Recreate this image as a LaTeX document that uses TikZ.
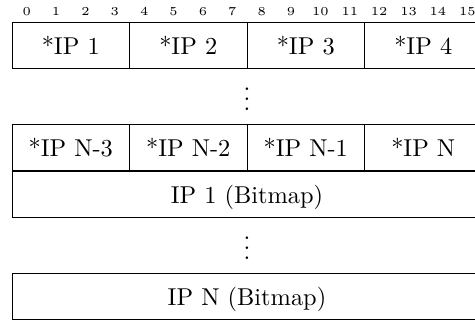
\documentclass[tikz,border=0pt]{standalone}
\begin{document}
\begin{tikzpicture}[x=0.41pt,y=-0.41pt,
  field/.style={draw, line width=0.4pt, inner sep=0pt, outer sep=0pt,
    minimum width=48.175pt, minimum height=18.86pt,
    text height=7.5pt, text depth=0pt, font=\normalsize},
  widefield/.style={field, minimum width=192.7pt},
  bitno/.style={font=\tiny, anchor=base, inner sep=0pt},
  gap/.style={anchor=base, inner sep=0pt, font=\normalsize}]
\useasboundingbox (0,0) rectangle (475,320);
\clip (0,0) rectangle (475,320);

% bit numbers above the word
\foreach \i in {0,...,15}
  \node[bitno] (b\i) at ({12+29.375*(\i+0.5)},15.5) {\i};

% first word of addresses
\node[field] (f1) at (70.75,45)  {*IP 1};
\node[field] (f2) at (188.25,45) {*IP 2};
\node[field] (f3) at (305.75,45) {*IP 3};
\node[field] (f4) at (423.25,45) {*IP 4};

\node[gap] (d1) at (247,110) {$\vdots$};

% last word of addresses
\node[field] (g1) at (70.75,147)  {*IP N-3};
\node[field] (g2) at (188.25,147) {*IP N-2};
\node[field] (g3) at (305.75,147) {*IP N-1};
\node[field] (g4) at (423.25,147) {*IP N};

% bitmaps
\node[widefield] (m1) at (247,194) {IP 1 (Bitmap)};
\node[gap] (d2) at (247,259) {$\vdots$};
\node[widefield] (mN) at (247,296) {IP N (Bitmap)};
\end{tikzpicture}
\end{document}
